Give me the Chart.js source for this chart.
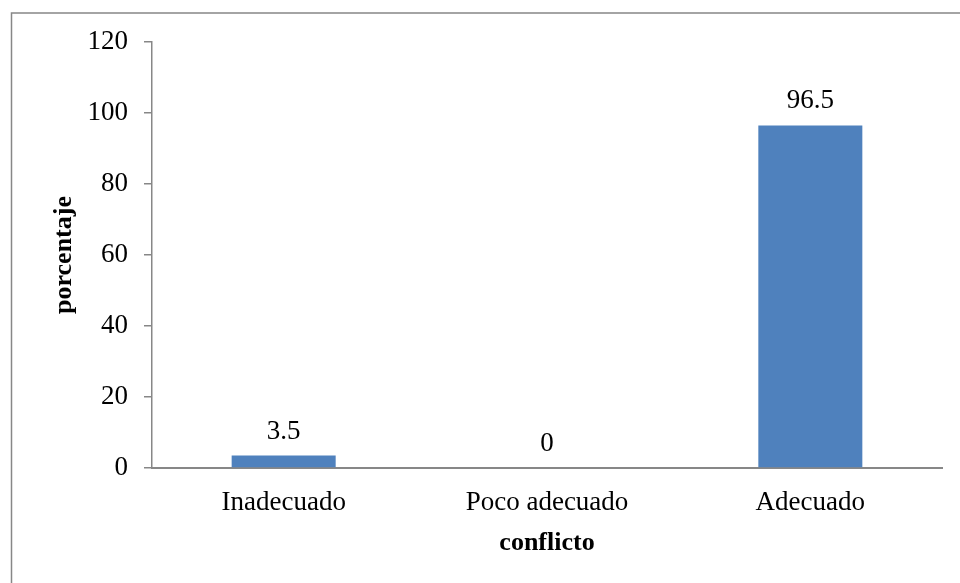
<!DOCTYPE html>
<html>
<head>
<meta charset="utf-8">
<script src="https://cdn.jsdelivr.net/npm/chart.js@4"></script>
<style>
  html, body { margin: 0; padding: 0; background: #fff; }
  #wrap { width: 960px; height: 583px; }
</style>
</head>
<body>
<div id="wrap"><canvas id="conflictoChart"></canvas></div>
<script>
const categories = ['Inadecuado', 'Poco adecuado', 'Adecuado']
const porcentajes = [3.5, 0, 96.5]
const yTicks = [0, 20, 40, 60, 80, 100, 120]

const serif = '"Liberation Serif", "Times New Roman", serif'
const gray = '#878787'

// frame around the chart (only top and left edges fall inside the canvas)
const framePlugin = {
  id: 'frame',
  beforeDraw(chart) {
    const ctx = chart.ctx
    ctx.save()
    ctx.strokeStyle = gray
    ctx.lineWidth = 1.5
    ctx.strokeRect(11.5, 13, chart.width + 20, chart.height + 20)
    ctx.restore()
  }
}

// value printed above each bar
const valueLabels = {
  id: 'valueLabels',
  afterDatasetsDraw(chart) {
    const ctx = chart.ctx
    const meta = chart.getDatasetMeta(0)
    ctx.save()
    ctx.font = '27px ' + serif
    ctx.fillStyle = '#000'
    ctx.textAlign = 'center'
    ctx.textBaseline = 'alphabetic'
    meta.data.forEach((bar, i) => {
      ctx.fillText(String(porcentajes[i]), bar.x, bar.y - 17)
    })
    ctx.restore()
  }
}

new Chart(document.getElementById('conflictoChart'), {
  type: 'bar',
  data: {
    labels: categories,
    datasets: [{
      label: 'porcentaje',
      data: porcentajes,
      backgroundColor: '#4F81BD',
      categoryPercentage: 1,
      barPercentage: 0.395
    }]
  },
  options: {
    responsive: true,
    maintainAspectRatio: false,
    animation: false,
    layout: { padding: { top: 42, right: 18, left: 12, bottom: 0 } },
    plugins: {
      legend: { display: false },
      tooltip: { enabled: false }
    },
    scales: {
      x: {
        grid: { display: false, drawTicks: false },
        border: { display: true, color: gray, width: 2 },
        ticks: { color: '#000', font: { family: serif, size: 27 }, padding: 19 },
        title: {
          display: true,
          text: 'conflicto',
          color: '#000',
          font: { family: serif, size: 26, weight: 'bold' },
          padding: { top: 6, bottom: 24 }
        },
        afterFit(scale) { scale.height = 115 }
      },
      y: {
        min: 0,
        max: 120,
        afterBuildTicks(scale) { scale.ticks = yTicks.map(v => ({ value: v })) },
        grid: { drawOnChartArea: false, drawTicks: true, tickLength: 8, color: gray, lineWidth: 1.5 },
        border: { display: true, color: gray, width: 1.5 },
        ticks: { color: '#000', font: { family: serif, size: 27 }, padding: 16 },
        title: {
          display: true,
          text: 'porcentaje',
          color: '#000',
          font: { family: serif, size: 26, weight: 'bold' },
          padding: { top: 37, bottom: 8 }
        },
        afterFit(scale) { scale.width = 140 }
      }
    }
  },
  plugins: [framePlugin, valueLabels]
})
</script>
</body>
</html>
